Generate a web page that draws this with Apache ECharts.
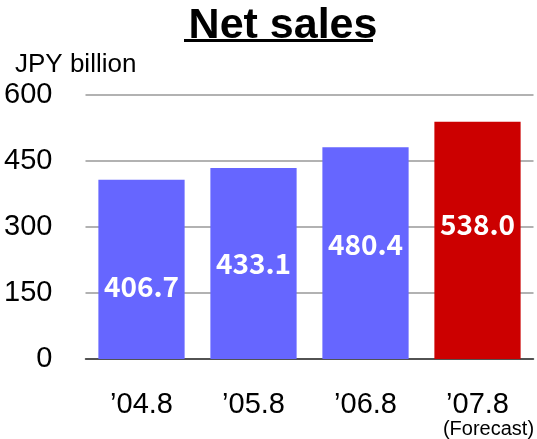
<!DOCTYPE html>
<html><head><meta charset="utf-8">
<script src="https://cdn.jsdelivr.net/npm/echarts@6/dist/echarts.min.js"></script>
<style>html,body{margin:0;padding:0;background:#fff}#c{width:537px;height:439px}</style>
</head><body><div id="c"></div>
<script>
const categories = ["\u201904.8", "\u201905.8", "\u201906.8", "\u201907.8"];
const categoryNotes = ["", "", "", "(Forecast)"];
const netSales = [406.7, 433.1, 480.4, 538.0];
const yTicks = [0, 150, 300, 450, 600];
const barColors = ["#6666FF", "#6666FF", "#6666FF", "#CC0000"];
const labelOffsets = [[0, 17], [0, 0], [0, -9], [0, -16]];

const chart = echarts.init(document.getElementById('c'), null, {renderer: 'canvas'});
chart.setOption({
  animation: false,
  title: {
    text: 'Net sales', left: 278, textAlign: 'center', top: 0,
    textStyle: {fontFamily: 'Liberation Sans', fontWeight: 'bold', fontSize: 43, color: '#000'}
  },
  graphic: [
    {type: 'rect', left: 184, top: 39, shape: {width: 189, height: 3}, style: {fill: '#000'}},
    {type: 'text', left: 15, top: 52, style: {text: 'JPY billion', font: '26px "Liberation Sans"', fill: '#000'}}
  ],
  grid: {left: 85.5, right: 3, top: 94.5, bottom: 78, containLabel: false},
  xAxis: {
    type: 'category', data: categories,
    axisLine: {lineStyle: {color: '#333', width: 1.5}},
    axisTick: {show: false},
    axisLabel: {
      interval: 0, margin: 32, color: '#000', fontFamily: 'Liberation Sans', fontSize: 29, lineHeight: 28,
      formatter: (v, i) => categoryNotes[i] ? v + '\n{f|' + categoryNotes[i] + '}' : v,
      rich: {f: {fontFamily: 'Liberation Sans', fontSize: 20, lineHeight: 20, color: '#000', padding: [0, 0, 0, 22]}}
    }
  },
  yAxis: {
    type: 'value', min: yTicks[0], max: yTicks[yTicks.length - 1], interval: 150,
    axisLine: {show: false}, axisTick: {show: false},
    splitLine: {lineStyle: {color: '#999', width: 1.5}},
    axisLabel: {margin: 33, color: '#000', fontFamily: 'Liberation Sans', fontSize: 29}
  },
  series: [{
    type: 'bar', barCategoryGap: '23%',
    data: netSales.map((v, i) => ({
      value: v,
      itemStyle: {color: barColors[i]},
      label: {offset: labelOffsets[i]}
    })),
    label: {
      show: true, position: 'inside', color: '#fff',
      fontFamily: 'Noto Sans CJK JP', fontWeight: 'bold', fontSize: 28,
      formatter: p => p.value.toFixed(1)
    }
  }]
});
</script></body></html>
